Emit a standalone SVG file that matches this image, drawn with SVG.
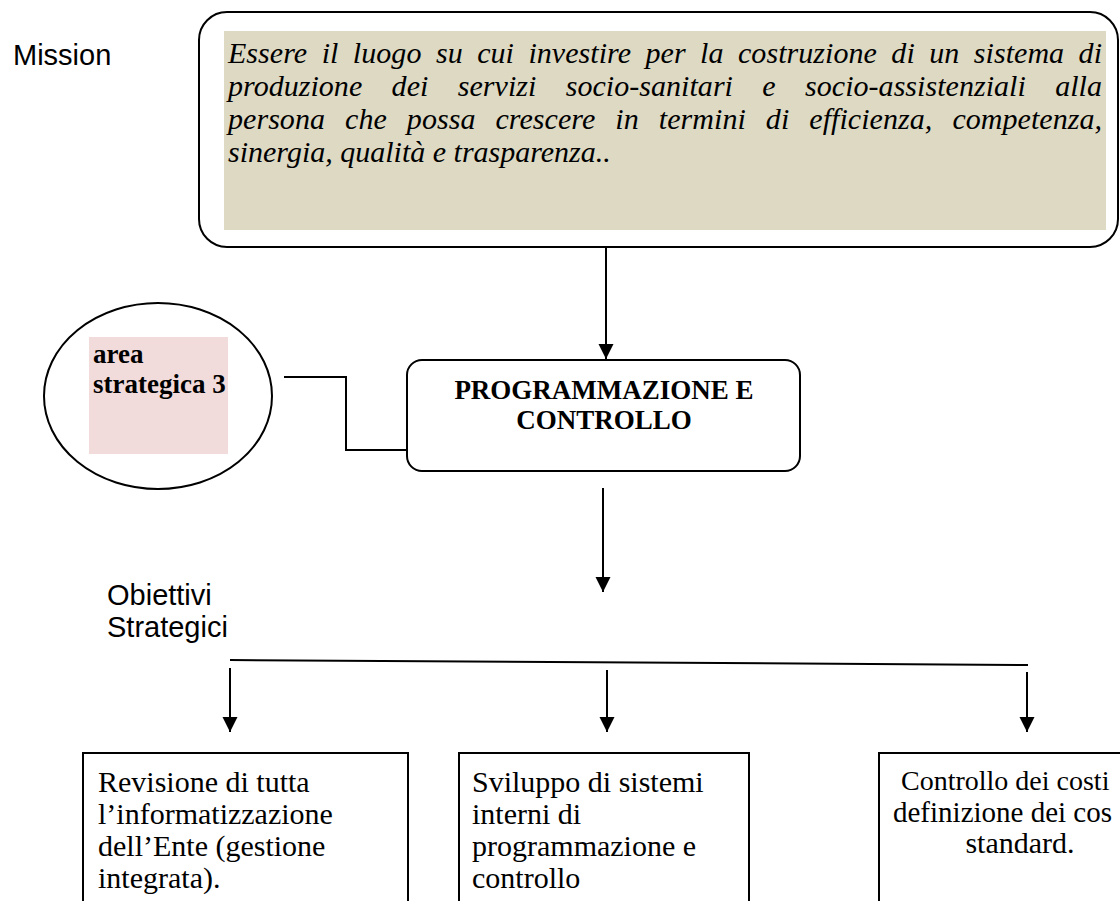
<svg xmlns="http://www.w3.org/2000/svg" width="1120" height="901" viewBox="0 0 1120 901">
<style>
.sans{font-family:"Liberation Sans",Arial,sans-serif;font-size:29px;fill:#000}
.it{font-family:"Liberation Serif","Times New Roman",serif;font-style:italic;font-size:30px;fill:#000}
.bold{font-family:"Liberation Serif","Times New Roman",serif;font-weight:bold;font-size:27px;fill:#000}
.reg{font-family:"Liberation Serif","Times New Roman",serif;font-size:30px;fill:#000}
.box{fill:#fff;stroke:#000;stroke-width:2}
.ln{fill:none;stroke:#000;stroke-width:2}
</style>
<defs>
<marker id="ah" markerUnits="userSpaceOnUse" markerWidth="16" markerHeight="16" refX="15" refY="7.5" orient="auto">
<path d="M0,0 L15,7.5 L0,15 z" fill="#000"/>
</marker>
</defs>
<rect width="1120" height="901" fill="#fff"/>

<text class="sans" x="13" y="65">Mission</text>
<g class="sans">
<text x="107" y="605">Obiettivi</text>
<text x="107" y="637">Strategici</text>
</g>

<g id="mission">
<rect class="box" x="199" y="12" width="919" height="235" rx="28"/>
<rect x="224" y="31" width="882" height="199" fill="#DDD9C3"/>
<text class="it" x="228" y="63" word-spacing="6.9" textLength="874" lengthAdjust="spacing">Essere il luogo su cui investire per la costruzione di un sistema di</text>
<text class="it" x="228" y="96" word-spacing="21.8" textLength="874" lengthAdjust="spacing">produzione dei servizi socio-sanitari e socio-assistenziali alla</text>
<text class="it" x="228" y="129" word-spacing="12.5" textLength="874" lengthAdjust="spacing">persona che possa crescere in termini di efficienza, competenza,</text>
<text class="it" x="228" y="162">sinergia, qualità e trasparenza..</text>
</g>

<g id="area">
<ellipse cx="158" cy="396" rx="114" ry="93" fill="#fff" stroke="#000" stroke-width="2"/>
<rect x="89" y="337" width="139" height="117" fill="#F2DCDB"/>
<text class="bold" x="93" y="363">area</text>
<text class="bold" x="93" y="393">strategica 3</text>
</g>

<g id="prog">
<rect class="box" x="407" y="360" width="393" height="111" rx="15"/>
<text class="bold" x="604" y="399" text-anchor="middle">PROGRAMMAZIONE E</text>
<text class="bold" x="604" y="429" text-anchor="middle">CONTROLLO</text>
</g>

<g id="obj1">
<rect class="box" x="83" y="753" width="325" height="170"/>
<g class="reg">
<text x="98" y="792">Revisione di tutta</text>
<text x="98" y="824">l’informatizzazione</text>
<text x="98" y="856">dell’Ente (gestione</text>
<text x="98" y="888">integrata).</text>
</g>
</g>

<g id="obj2">
<rect class="box" x="459" y="753" width="290" height="170"/>
<g class="reg">
<text x="472" y="792">Sviluppo di sistemi</text>
<text x="472" y="824">interni di</text>
<text x="472" y="856">programmazione e</text>
<text x="472" y="888">controllo</text>
</g>
</g>

<g id="obj3">
<rect class="box" x="879" y="753" width="300" height="170"/>
<g class="reg">
<text x="901" y="790" font-size="28">Controllo dei costi</text>
<text x="893" y="822" font-size="29">definizione dei cos</text>
<text x="1020" y="853" text-anchor="middle">standard.</text>
</g>
</g>

<g id="connectors">
<line class="ln" x1="606" y1="247" x2="606" y2="359" marker-end="url(#ah)"/>
<polyline class="ln" stroke-width="1.5" points="284,377 346,377 346,450 407,450"/>
<line class="ln" x1="603" y1="488" x2="603" y2="592" marker-end="url(#ah)"/>
<line class="ln" x1="230" y1="660" x2="1028" y2="665"/>
<line class="ln" x1="230" y1="668" x2="230" y2="732" marker-end="url(#ah)"/>
<line class="ln" x1="607" y1="670" x2="607" y2="732" marker-end="url(#ah)"/>
<line class="ln" x1="1027" y1="672" x2="1027" y2="732" marker-end="url(#ah)"/>
</g>
</svg>
